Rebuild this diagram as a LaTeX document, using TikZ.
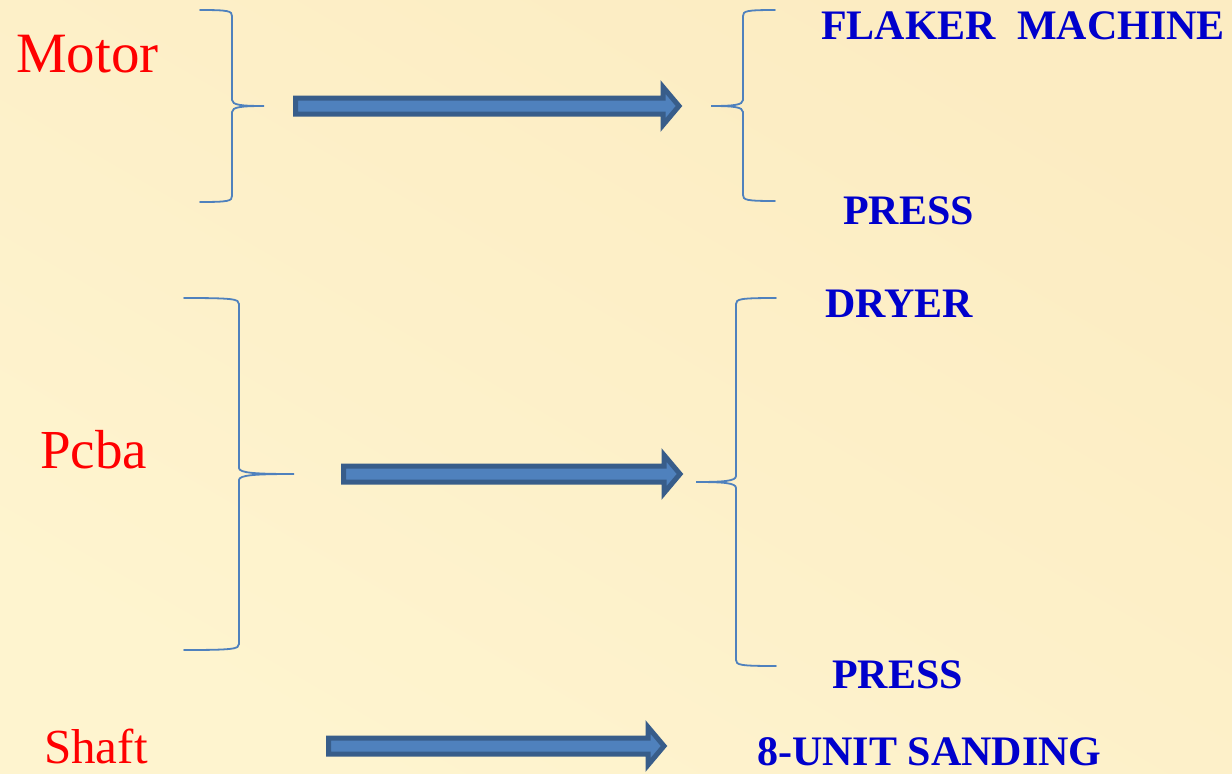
\documentclass[tikz,border=0pt]{standalone}
\usepackage{fontspec}
\setmainfont{Liberation Serif}
\newfontfamily\partfont{Liberation Serif}
\usetikzlibrary{calc}

\definecolor{pagebg}{RGB}{252,236,194}
\definecolor{pagelight}{RGB}{254,244,207}
\definecolor{bracecol}{RGB}{79,129,189}
\definecolor{arrowfill}{RGB}{79,129,189}
\definecolor{arrowline}{RGB}{56,93,138}
\definecolor{partred}{RGB}{255,0,0}
\definecolor{machblue}{RGB}{0,0,204}

% curly brace: end x, tip x, top y, middle y, bottom y
\newcommand{\curly}[5]{%
  \pgfmathsetmacro{\bx}{(#1+#2)/2}%
  \pgfmathsetmacro{\bh}{(#2-#1)/2}%
  \draw[brace] (#1,#3) .. controls (\bx-0.1*\bh,#3) and (\bx,#3+1) .. (\bx,#3+6)
    -- (\bx,#4-6) .. controls (\bx,#4-1) and (\bx+0.3*\bh,#4) .. (#2,#4)
    .. controls (\bx+0.3*\bh,#4) and (\bx,#4+1) .. (\bx,#4+6)
    -- (\bx,#5-6) .. controls (\bx,#5-1) and (\bx-0.1*\bh,#5) .. (#1,#5);}

% block arrow between two named coordinates
\newcommand{\fatarrow}[2]{%
  \draw[blockarrow] let \p1=(#1), \p2=(#2) in
    (\x1,\y1+8pt) -- (\x2-16pt,\y1+8pt) -- (\x2-16pt,\y1+19pt) -- (\x2,\y1)
    -- (\x2-16pt,\y1-19pt) -- (\x2-16pt,\y1-8pt) -- (\x1,\y1-8pt) -- cycle;}

\begin{document}
\begin{tikzpicture}[
  x=1pt, y=-1pt,
  part/.style={text=partred, inner sep=0pt, anchor=base west},
  machine/.style={text=machblue, font=\bfseries\fontsize{42}{48}\selectfont, inner sep=0pt, anchor=base west},
  brace/.style={draw=bracecol, line width=1.8pt, line cap=round},
  blockarrow/.style={fill=arrowfill, draw=arrowline, line width=5pt, line join=miter}
]

% page
\useasboundingbox (0,0) rectangle (1232,774);
\shade[top color=pagebg, bottom color=pagelight, shading angle=-30] (0,0) rectangle (1232,774);

% parts
\node[part] (motor) at (16,72) {\partfont\fontsize{57}{60}\selectfont Motor};
\node[part] (pcba) at (40,468) {\partfont\fontsize{55}{60}\selectfont Pcba};
\node[part] (shaft) at (44,763) {\partfont\fontsize{49}{55}\selectfont Shaft};

% machines
\node[machine] (flaker) at (821,39) {FLAKER\ \ MACHINE};
\node[machine] (press1) at (843,224) {PRESS};
\node[machine] (dryer) at (825,317) {DRYER};
\node[machine] (press2) at (832,688) {PRESS};
\node[machine] (sanding) at (757,765) {8-UNIT SANDING};

% braces
\curly{200}{264}{10}{106}{202}
\curly{775}{711}{10}{106}{201}
\curly{184}{294}{298}{474}{650}
\curly{776}{696}{298}{482}{666}

% arrow ends
\coordinate (motor-from) at (295.5,106);
\coordinate (motor-to) at (679,106);
\coordinate (pcba-from) at (343.5,474);
\coordinate (pcba-to) at (680,474);
\coordinate (shaft-from) at (328.5,746);
\coordinate (shaft-to) at (664,746);

\fatarrow{motor-from}{motor-to}
\fatarrow{pcba-from}{pcba-to}
\fatarrow{shaft-from}{shaft-to}

\end{tikzpicture}
\end{document}
